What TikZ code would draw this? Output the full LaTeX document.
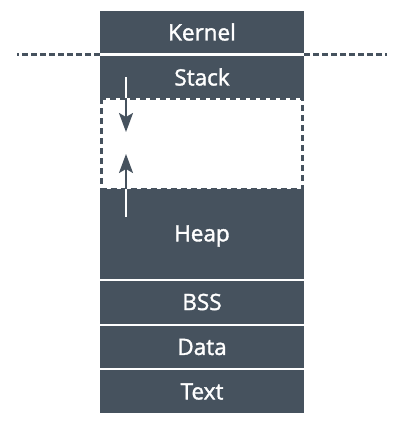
\documentclass[tikz,border=0pt]{standalone}
\usepackage{fontspec}
\setmainfont{Open Sans}
\newfontfamily\lblfont[FakeBold=1.6]{Open Sans}
\usetikzlibrary{arrows.meta}
\definecolor{slate}{HTML}{46525E}
\begin{document}
\begin{tikzpicture}[x=1pt,y=-1pt,
  seg/.style={fill=slate,draw=none},
  lbl/.style={text=white,font=\lblfont\fontsize{22.5}{25}\selectfont,anchor=center,inner sep=0pt},
  sep/.style={dash pattern=on 6pt off 3pt,line width=2.5pt,draw=slate},
  gap/.style={draw=slate,fill=white,line width=3pt,dash pattern=on 6pt off 4pt},
  arr/.style={line width=2pt,-{Stealth[length=19pt,width=14pt,inset=4pt]}}
]
\useasboundingbox (0,0) rectangle (414,429);
% segments
\fill[seg] (100,11) rectangle (304,53);
\fill[seg] (100,55.5) rectangle (304,98);
\fill[seg] (100,189) rectangle (304,279);
\fill[seg] (100,281) rectangle (304,323.5);
\fill[seg] (100,325.5) rectangle (304,368);
\fill[seg] (100,370) rectangle (304,413);
% free-space region
\draw[gap] (101.5,98) rectangle (302.5,189);
% labels
\node[lbl] (kernel) at (202,32) {Kernel};
\node[lbl] (stack) at (202,77) {Stack};
\node[lbl] (heap) at (202,236) {Heap};
\node[lbl] (bss) at (202,302) {BSS};
\node[lbl] (data) at (202,347) {Data};
\node[lbl] (text) at (202,391.5) {Text};
% boundary line
\coordinate (l1) at (17,54.5);
\coordinate (l2) at (100,54.5);
\coordinate (r1) at (304,54.5);
\coordinate (r2) at (387,54.5);
\draw[sep,dash phase=4pt] (l1) -- (l2);
\draw[sep,dash phase=4pt] (r2) -- (r1);
% arrows
\coordinate (sa) at (126,77);
\coordinate (sb) at (126,98);
\coordinate (st) at (126,132);
\coordinate (ha) at (126,217);
\coordinate (hb) at (126,189);
\coordinate (ht) at (126,154);
\draw[line width=2pt,white] (sa) -- (sb);
\draw[arr,slate] (sb) -- (st);
\draw[line width=2pt,white] (ha) -- (hb);
\draw[arr,slate] (hb) -- (ht);
\end{tikzpicture}
\end{document}
